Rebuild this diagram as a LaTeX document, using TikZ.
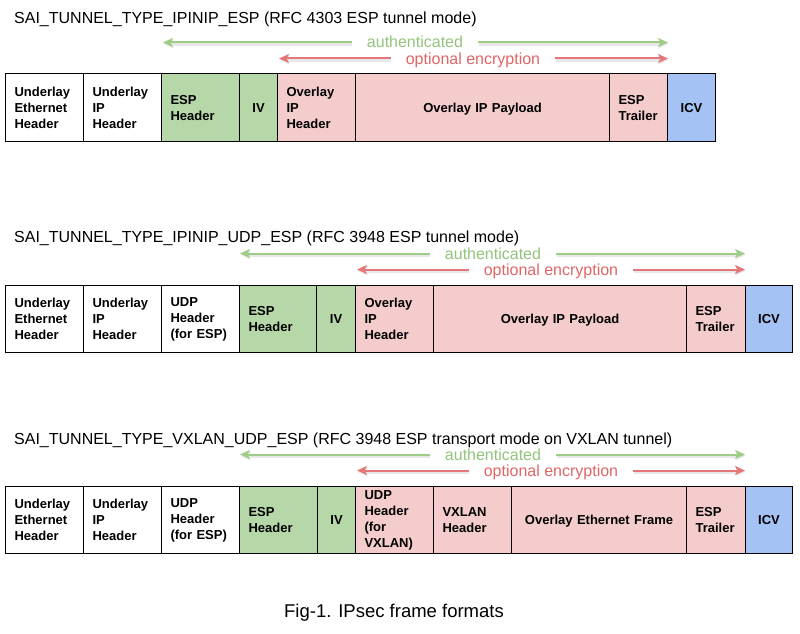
\documentclass[tikz,border=0pt]{standalone}
\usepackage{fontspec}
\setmainfont{Liberation Sans}
\usetikzlibrary{arrows.meta}
\definecolor{cgrn}{HTML}{B6D7A8}
\definecolor{cpnk}{HTML}{F4CCCC}
\definecolor{cblu}{HTML}{A4C2F4}
\definecolor{agrn}{HTML}{93C47D}
\definecolor{ared}{HTML}{E06666}
\definecolor{lgrn}{HTML}{9ECD88}
\definecolor{lred}{HTML}{E47878}
\begin{document}
\begin{tikzpicture}[x=1pt,y=-1pt,
  cell/.style={draw=black, line width=1.1pt, anchor=north west, inner xsep=9pt, inner ysep=0pt,
    font=\bfseries\fontsize{13}{16}\selectfont, align=left},
  cellC/.style={cell, align=center, text height=9.3pt, text depth=0pt},
  rowA/.style={minimum height=68pt},
  rowB/.style={minimum height=67pt},
  gcell/.style={fill=cgrn},
  pcell/.style={fill=cpnk},
  bcell/.style={fill=cblu},
  wcell/.style={fill=white},
  title/.style={anchor=base west, inner sep=0pt, font=\fontsize{16}{19}\selectfont},
  atext/.style={anchor=base, inner xsep=15pt, inner ysep=0pt, text height=12pt, text depth=1pt,
    font=\fontsize{16}{19}\selectfont},
  arr/.style={line width=2pt, -{Stealth[length=10pt,width=9pt,inset=2.5pt]},
    preaction={draw=black!9, line width=3.6pt, transform canvas={xshift=0.6pt,yshift=-1.4pt}}},
  garr/.style={arr, draw=lgrn},
  rarr/.style={arr, draw=lred}
]
\useasboundingbox[fill=white] (0,0) rectangle (800,634);

% ---------------- Row 1 ----------------
\node[title] (t1) at (14,24) {SAI\_TUNNEL\_TYPE\_IPINIP\_ESP (RFC 4303 ESP tunnel mode)};

\node[atext, text=agrn] (g1) at (415,48) {authenticated};
\coordinate (g1L) at (163,42.5);
\coordinate (g1R) at (668,42.5);
\draw[garr] (g1.west) -- (g1L);
\draw[garr] (g1.east) -- (g1R);

\node[atext, text=ared] (e1) at (473,64) {optional encryption};
\coordinate (e1L) at (279,58.5);
\coordinate (e1R) at (668,58.5);
\draw[rarr] (e1.west) -- (e1L);
\draw[rarr] (e1.east) -- (e1R);

\node[cell, rowA, wcell, minimum width=78pt, text width=60pt] (r1a) at (5,73) {Underlay\\Ethernet\\Header};
\node[cell, rowA, wcell, minimum width=78pt, text width=60pt] (r1b) at (83,73) {Underlay\\IP\\Header};
\node[cell, rowA, gcell, minimum width=78pt, text width=60pt] (r1c) at (161,73) {ESP\\Header};
\node[cellC, rowA, gcell, minimum width=38pt, text width=20pt] (r1d) at (239,73) {IV};
\node[cell, rowA, pcell, minimum width=78pt, text width=60pt] (r1e) at (277,73) {Overlay\\IP\\Header};
\node[cellC, rowA, pcell, minimum width=254pt, text width=236pt] (r1f) at (355,73) {Overlay IP Payload};
\node[cell, rowA, pcell, minimum width=58pt, text width=40pt] (r1g) at (609,73) {ESP\\Trailer};
\node[cellC, rowA, bcell, minimum width=48pt, text width=30pt] (r1h) at (667,73) {ICV};

% ---------------- Row 2 ----------------
\node[title] (t2) at (14,242.5) {SAI\_TUNNEL\_TYPE\_IPINIP\_UDP\_ESP (RFC 3948 ESP tunnel mode)};

\node[atext, text=agrn] (g2) at (493,259) {authenticated};
\coordinate (g2L) at (240,253.5);
\coordinate (g2R) at (745,253.5);
\draw[garr] (g2.west) -- (g2L);
\draw[garr] (g2.east) -- (g2R);

\node[atext, text=ared] (e2) at (551,275) {optional encryption};
\coordinate (e2L) at (357,269.5);
\coordinate (e2R) at (745,269.5);
\draw[rarr] (e2.west) -- (e2L);
\draw[rarr] (e2.east) -- (e2R);

\node[cell, rowB, wcell, minimum width=78pt, text width=60pt] (r2a) at (5,285) {Underlay\\Ethernet\\Header};
\node[cell, rowB, wcell, minimum width=78pt, text width=60pt] (r2b) at (83,285) {Underlay\\IP\\Header};
\node[cell, rowB, wcell, minimum width=78pt, text width=60pt] (r2c) at (161,285) {UDP\\Header\\(for ESP)};
\node[cell, rowB, gcell, minimum width=77pt, text width=59pt] (r2d) at (239,285) {ESP\\Header};
\node[cellC, rowB, gcell, minimum width=39pt, text width=21pt] (r2e) at (316,285) {IV};
\node[cell, rowB, pcell, minimum width=78pt, text width=60pt] (r2f) at (355,285) {Overlay\\IP\\Header};
\node[cellC, rowB, pcell, minimum width=253pt, text width=235pt] (r2g) at (433,285) {Overlay IP Payload};
\node[cell, rowB, pcell, minimum width=59pt, text width=41pt] (r2h) at (686,285) {ESP\\Trailer};
\node[cellC, rowB, bcell, minimum width=47pt, text width=29pt] (r2i) at (745,285) {ICV};

% ---------------- Row 3 ----------------
\node[title] (t3) at (14,444.5) {SAI\_TUNNEL\_TYPE\_VXLAN\_UDP\_ESP (RFC 3948 ESP transport mode on VXLAN tunnel)};

\node[atext, text=agrn] (g3) at (493,460) {authenticated};
\coordinate (g3L) at (240,454.5);
\coordinate (g3R) at (745,454.5);
\draw[garr] (g3.west) -- (g3L);
\draw[garr] (g3.east) -- (g3R);

\node[atext, text=ared] (e3) at (551,476) {optional encryption};
\coordinate (e3L) at (357,470.5);
\coordinate (e3R) at (745,470.5);
\draw[rarr] (e3.west) -- (e3L);
\draw[rarr] (e3.east) -- (e3R);

\node[cell, rowB, wcell, minimum width=78pt, text width=60pt] (r3a) at (5,486) {Underlay\\Ethernet\\Header};
\node[cell, rowB, wcell, minimum width=78pt, text width=60pt] (r3b) at (83,486) {Underlay\\IP\\Header};
\node[cell, rowB, wcell, minimum width=78pt, text width=60pt] (r3c) at (161,486) {UDP\\Header\\(for ESP)};
\node[cell, rowB, gcell, minimum width=78pt, text width=60pt] (r3d) at (239,486) {ESP\\Header};
\node[cellC, rowB, gcell, minimum width=38pt, text width=20pt] (r3e) at (317,486) {IV};
\node[cell, rowB, pcell, minimum width=78pt, text width=60pt] (r3f) at (355,486) {UDP\\Header\\(for\\VXLAN)};
\node[cell, rowB, pcell, minimum width=78pt, text width=60pt] (r3g) at (433,486) {VXLAN\\Header};
\node[cellC, rowB, pcell, minimum width=175pt, text width=157pt] (r3h) at (511,486) {Overlay Ethernet Frame};
\node[cell, rowB, pcell, minimum width=59pt, text width=41pt] (r3i) at (686,486) {ESP\\Trailer};
\node[cellC, rowB, bcell, minimum width=47pt, text width=29pt] (r3j) at (745,486) {ICV};

% ---------------- Caption ----------------
\node[anchor=base, inner sep=0pt, font=\fontsize{18.5}{22}\selectfont] (cap) at (394,617) {Fig-1. IPsec frame formats};
\end{tikzpicture}
\end{document}
